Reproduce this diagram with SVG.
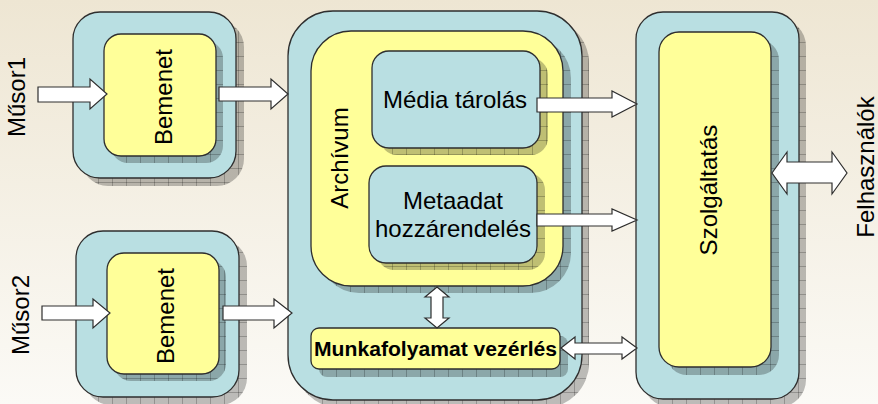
<svg xmlns="http://www.w3.org/2000/svg" width="878" height="404" viewBox="0 0 878 404">
<defs>
<linearGradient id="bg" x1="0" y1="0" x2="0" y2="1">
<stop offset="0" stop-color="#eee6d3"/>
<stop offset="1" stop-color="#fbfaf6"/>
</linearGradient>
<pattern id="grid" width="14" height="14" patternUnits="userSpaceOnUse">
<rect width="14" height="14" fill="#000" fill-opacity="0.25"/>
<path d="M0 0.5H14M0.5 0V14" stroke="#000" stroke-opacity="0.22" stroke-width="1" fill="none"/>
</pattern>
<style>
.sh{fill:url(#grid)}
.blue{fill:#b9dfe2;stroke:#2e2e2e;stroke-width:1.3}
.yel{fill:#ffff99;stroke:#2e2e2e;stroke-width:1.3}
.arr{fill:#fff;stroke:#2e2e2e;stroke-width:1.2;stroke-linejoin:miter}
.t{font-family:"Liberation Sans",Arial,sans-serif;font-size:24px;fill:#000;text-anchor:middle}
.b{font-family:"Liberation Sans",Arial,sans-serif;font-size:20px;font-weight:bold;fill:#000;text-anchor:middle}
</style>
</defs>
<rect width="878" height="404" fill="url(#bg)"/>

<g id="bemenet1">
<rect class="sh" x="81" y="20" width="163" height="166" rx="27"/>
<rect class="blue" x="73" y="12" width="163" height="166" rx="27"/>
<rect class="sh" x="111" y="41" width="112" height="122" rx="17"/>
<rect class="yel" x="104" y="34" width="112" height="122" rx="17"/>
<text class="t" transform="translate(172,97) rotate(-90)">Bemenet</text>
</g>

<g id="bemenet2">
<rect class="sh" x="84" y="239" width="163" height="166" rx="27"/>
<rect class="blue" x="76" y="231" width="163" height="166" rx="27"/>
<rect class="sh" x="114" y="260" width="112" height="121" rx="17"/>
<rect class="yel" x="107" y="253" width="112" height="121" rx="17"/>
<text class="t" transform="translate(174,316) rotate(-90)">Bemenet</text>
</g>

<g id="musor1"><text class="t" transform="translate(25,97) rotate(-90)">Műsor1</text></g>
<g id="musor2"><text class="t" transform="translate(29,315) rotate(-90)">Műsor2</text></g>

<g id="kozpont">
<rect class="sh" x="295" y="18" width="294" height="390" rx="45"/>
<rect class="blue" x="288" y="11" width="294" height="389" rx="45"/>
</g>

<g id="archivum">
<rect class="sh" x="319" y="38" width="252" height="255" rx="40"/>
<rect class="yel" x="311" y="31" width="252" height="255" rx="40"/>
<text class="t" transform="translate(348,158) rotate(-90)">Archívum</text>
</g>

<g id="media">
<rect class="sh" x="380" y="58" width="168" height="97" rx="17"/>
<rect class="blue" x="372" y="51" width="168" height="97" rx="17"/>
<text class="t" x="455" y="108">Média tárolás</text>
</g>

<g id="metaadat">
<rect class="sh" x="377" y="173" width="168" height="97" rx="17"/>
<rect class="blue" x="369" y="166" width="168" height="97" rx="17"/>
<text class="t" x="453" y="209">Metaadat</text>
<text class="t" x="453" y="237">hozzárendelés</text>
</g>

<g id="munkafolyamat">
<rect class="sh" x="319" y="336" width="249" height="41" rx="8"/>
<rect class="yel" x="311" y="328" width="249" height="41" rx="8"/>
<text class="b" x="435.5" y="356" textLength="243" lengthAdjust="spacingAndGlyphs">Munkafolyamat vezérlés</text>
</g>

<g id="szolgaltatas">
<rect class="sh" x="643" y="19" width="163" height="388" rx="27"/>
<rect class="blue" x="636" y="12" width="163" height="387" rx="27"/>
<rect class="sh" x="667" y="40" width="112" height="335" rx="20"/>
<rect class="yel" x="659" y="32" width="112" height="335" rx="20"/>
<text class="t" transform="translate(717,190) rotate(-90)">Szolgáltatás</text>
</g>

<g id="felhasznalok"><text class="t" transform="translate(874,167) rotate(-90)">Felhasználók</text></g>

<g id="connectors">
<polygon class="arr" points="38,87 90,87 90,79 107,94 90,109 90,102 38,102"/>
<polygon class="arr" points="219,87 271,87 271,79 288,94 271,109 271,101 219,101"/>
<polygon class="arr" points="42,306 93,306 93,299 110,313 93,328 93,320 42,320"/>
<polygon class="arr" points="223,306 274,306 274,299 292,313 274,328 274,320 223,320"/>
<polygon class="arr" points="537,98 612,98 612,91 637,104 612,117 612,112 537,112"/>
<polygon class="arr" points="537,214 612,214 612,209 637,220 612,231 612,226 537,226"/>
<polygon class="arr" points="561,348 575,337 575,343 622,343 622,337 637,348 622,359 622,354 575,354 575,359"/>
<polygon class="arr" points="772,173 787,152 787,162 832,162 832,152 847,173 832,194 832,183 787,183 787,194"/>
<polygon class="arr" points="437,287 449,297 443,297 443,318 449,318 437,328 425,318 431,318 431,297 425,297"/>
</g>
</svg>
